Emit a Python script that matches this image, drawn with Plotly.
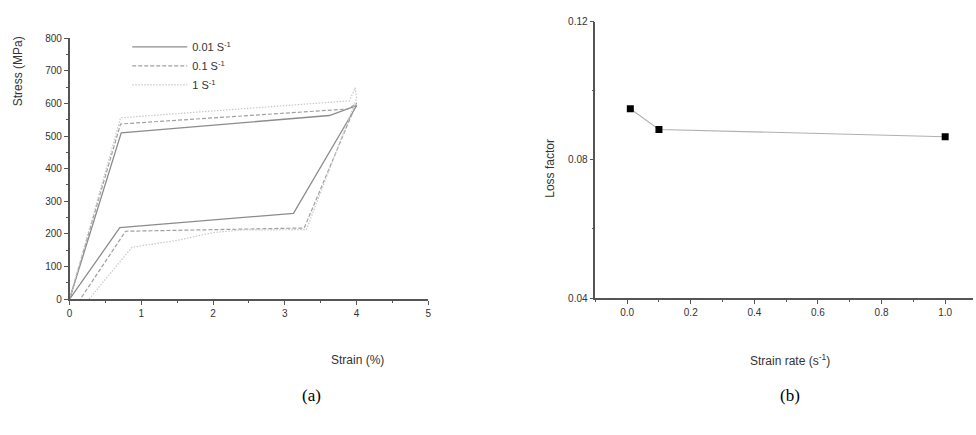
import plotly.graph_objects as go

# ---- data: panel (a) stress-strain loops ----
strain_001 = [0.0, 0.72, 3.62, 4.0, 3.12, 0.70, 0.0]
stress_001 = [0, 510, 563, 593, 263, 219, 0]

strain_01 = [0.0, 0.71, 3.88, 4.0, 3.27, 0.78, 0.15]
stress_01 = [0, 537, 583, 601, 218, 208, 0]

strain_1 = [0.0, 0.71, 3.9, 3.98, 4.0, 3.3, 2.4, 2.0, 1.5, 0.87, 0.27]
stress_1 = [0, 556, 608, 648, 615, 213, 212, 204, 180, 159, 0]

series_names = ["0.01 S<sup>-1</sup>", "0.1 S<sup>-1</sup>", "1 S<sup>-1</sup>"]

# ---- data: panel (b) loss factor ----
strain_rate = [0.01, 0.1, 1.0]
loss_factor = [0.0948, 0.0888, 0.0867]

W, H = 976, 435
def px(x):
    return x / W
def py(y):
    return (H - y) / H

fig = go.Figure()

line_styles = [
    dict(color="#8c8c8c", width=1.3, dash="solid"),
    dict(color="#a0a0a0", width=1.2, dash="4px,2px"),
    dict(color="#c8c8c8", width=1.2, dash="1.5px,1.5px"),
]
for xs, ys, name, ls in zip([strain_001, strain_01, strain_1],
                            [stress_001, stress_01, stress_1],
                            series_names, line_styles):
    fig.add_trace(go.Scatter(x=xs, y=ys, mode="lines", name=name, line=ls,
                             xaxis="x", yaxis="y", showlegend=True))

fig.add_trace(go.Scatter(x=strain_rate, y=loss_factor, mode="lines+markers",
                         line=dict(color="#b0b0b0", width=1.1),
                         marker=dict(symbol="square", size=7, color="black"),
                         xaxis="x2", yaxis="y2", showlegend=False))

tickfont = dict(family="Liberation Sans, Arial, sans-serif", size=10, color="#333")
axcommon = dict(showline=True, linecolor="#555", linewidth=1.5, ticks="outside",
                tickcolor="#555", tickwidth=1.3, ticklen=4, showgrid=False,
                zeroline=False, tickfont=tickfont, mirror=False)

fig.update_layout(
    width=W, height=H,
    margin=dict(l=0, r=0, t=0, b=0),
    paper_bgcolor="white", plot_bgcolor="white",
    xaxis=dict(domain=[px(67), px(428)], range=[0, 5], dtick=1, tick0=0,
               anchor="y",
               minor=dict(dtick=0.5, ticklen=2, tickcolor="#555", ticks="outside"),
               **axcommon),
    yaxis=dict(domain=[py(301), py(34)], range=[0, 800], dtick=100, tick0=0,
               anchor="x",
               minor=dict(dtick=50, ticklen=2, tickcolor="#555", ticks="outside"),
               **axcommon),
    xaxis2=dict(domain=[px(596), 1.0], range=[-0.1, 1.0875], dtick=0.2, tick0=0,
                tickformat=".1f", anchor="y2",
                minor=dict(dtick=0.1, ticklen=2, tickcolor="#555", ticks="outside"),
                **axcommon),
    yaxis2=dict(domain=[py(300), py(17)], range=[0.04, 0.12], dtick=0.04, tick0=0.04,
                tickformat=".2f", anchor="x2",
                minor=dict(dtick=0.02, ticklen=2, tickcolor="#555", ticks="outside"),
                **axcommon),
    legend=dict(x=px(125), y=py(28), xanchor="left", yanchor="top",
                bgcolor="rgba(0,0,0,0)",
                font=dict(family="Liberation Sans, Arial, sans-serif", size=11, color="#333"),
                itemwidth=55, tracegroupgap=0),
    showlegend=True,
)

title_font = dict(family="Liberation Sans, Arial, sans-serif", size=12, color="#333")
label_font = dict(family="Liberation Serif, Times New Roman, serif", size=17, color="black")
annos = [
    dict(text="Stress (MPa)", x=px(16), y=py(68), textangle=-90, font=title_font),
    dict(text="Strain (%)", x=px(357), y=py(363), font=title_font),
    dict(text="Loss factor", x=px(551), y=py(167), textangle=-90, font=title_font),
    dict(text="Strain rate (s<sup>-1</sup>)", x=px(792), y=py(363), font=title_font),
    dict(text="(a)", x=px(310), y=py(400), font=label_font),
    dict(text="(b)", x=px(792), y=py(400), font=label_font),
]
for a in annos:
    fig.add_annotation(xref="paper", yref="paper", showarrow=False,
                       xanchor="center", yanchor="middle", **a)

fig.write_html("out.html",
               config={"displayModeBar": False},
               post_script="document.body.style.margin='0';document.body.style.overflow='hidden';")
